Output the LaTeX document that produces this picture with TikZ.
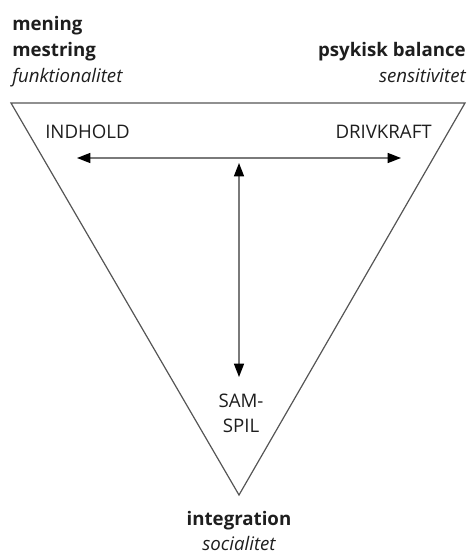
\documentclass[tikz,border=0pt]{standalone}
\usepackage{fontspec}
\setmainfont{Open Sans}
\usetikzlibrary{arrows.meta}
\definecolor{txt}{HTML}{1E1E1E}
\definecolor{edge}{HTML}{555555}
\definecolor{arr}{HTML}{7A7A7A}
\tikzset{
  lbl/.style={inner sep=0pt, text=txt, font=\fontsize{14}{16}\selectfont},
  bl/.style={lbl, font=\fontsize{14}{16}\selectfont\bfseries},
  il/.style={lbl, font=\fontsize{14}{16}\selectfont\itshape},
  tri/.style={draw=edge, line width=0.9pt, line join=miter},
  dbl/.style={draw=arr, line width=1.1pt, {Triangle[length=10pt,width=7.5pt,black]}-{Triangle[length=10pt,width=7.5pt,black]}}
}
\begin{document}
\begin{tikzpicture}[x=0.75pt,y=-0.75pt]
\useasboundingbox (0,0) rectangle (469,556);
% triangle corners
\coordinate (tl) at (11,103);
\coordinate (tr) at (465,103);
\coordinate (bv) at (239,495);
\draw[tri] (tl) -- (tr) -- (bv) -- cycle;
% labels outside
\node[bl, anchor=base west] (mening) at (12,31) {mening};
\node[bl, anchor=base west] (mestring) at (12,57) {mestring};
\node[il, anchor=base west] (funk) at (12,83) {funktionalitet};
\node[bl, anchor=base east] (psyk) at (466,57) {psykisk balance};
\node[il, anchor=base east] (sens) at (466,83) {sensitivitet};
\node[bl, anchor=base] (integ) at (239,525) {integration};
\node[il, anchor=base] (soc) at (239,550) {socialitet};
% labels inside
\node[lbl, anchor=base west] (indhold) at (45,138) {INDHOLD};
\node[lbl, anchor=base east] (drivkraft) at (432,138) {DRIVKRAFT};
\node[lbl, anchor=base] (sam) at (241,407) {SAM-};
\node[lbl, anchor=base] (spil) at (241,432) {SPIL};
% arrows
\coordinate (hl) at (77,158);
\coordinate (hr) at (401,158);
\coordinate (vt) at (239,163);
\coordinate (vb) at (239,377);
\draw[dbl] (hl) -- (hr);
\draw[dbl] (vt) -- (vb);
\end{tikzpicture}
\end{document}
